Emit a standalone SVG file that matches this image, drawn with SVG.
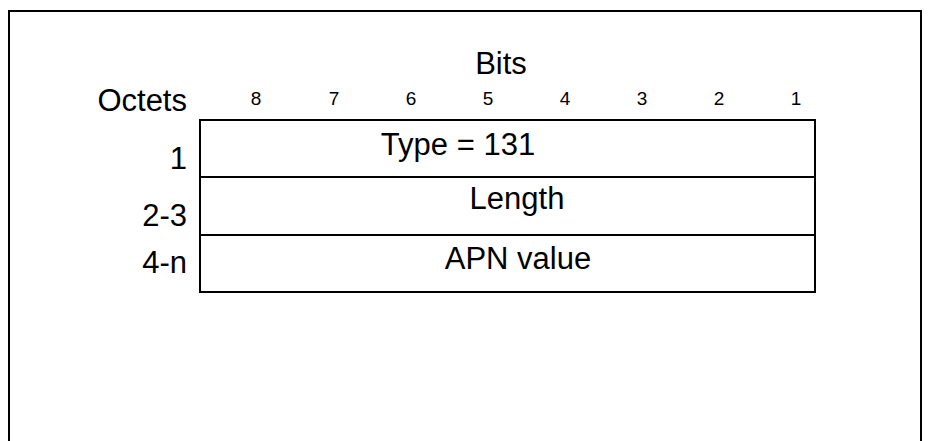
<svg xmlns="http://www.w3.org/2000/svg" width="931" height="441" viewBox="0 0 931 441">
<style>
.t{font-family:"Liberation Sans",Arial,sans-serif;fill:#000}
.big{font-size:31px}
.sm{font-size:19px}
.ln{stroke:#000;stroke-width:2;fill:none}
</style>
<rect x="0" y="0" width="931" height="441" fill="#fff"/>
<path class="ln" d="M9,441 V11 H921 V441"/>
<g id="header">
<text class="t big" x="501" y="74" text-anchor="middle">Bits</text>
<text class="t big" x="187" y="111" text-anchor="end">Octets</text>
<g class="t sm" text-anchor="middle">
<text x="256" y="105">8</text>
<text x="334" y="105">7</text>
<text x="411" y="105">6</text>
<text x="488" y="105">5</text>
<text x="565" y="105">4</text>
<text x="642" y="105">3</text>
<text x="719" y="105">2</text>
<text x="796" y="105">1</text>
</g>
</g>
<g id="row1">
<rect class="ln" x="200" y="120" width="615" height="57"/>
<text class="t big" x="458" y="155" text-anchor="middle">Type = 131</text>
<text class="t big" x="187" y="169" text-anchor="end">1</text>
</g>
<g id="row2">
<rect class="ln" x="200" y="177" width="615" height="58"/>
<text class="t big" x="517" y="209" text-anchor="middle">Length</text>
<text class="t big" x="187" y="226" text-anchor="end">2-3</text>
</g>
<g id="row3">
<rect class="ln" x="200" y="235" width="615" height="57"/>
<text class="t big" x="518" y="269" text-anchor="middle">APN value</text>
<text class="t big" x="187" y="273" text-anchor="end">4-n</text>
</g>
<g id="connectors"></g>
</svg>
